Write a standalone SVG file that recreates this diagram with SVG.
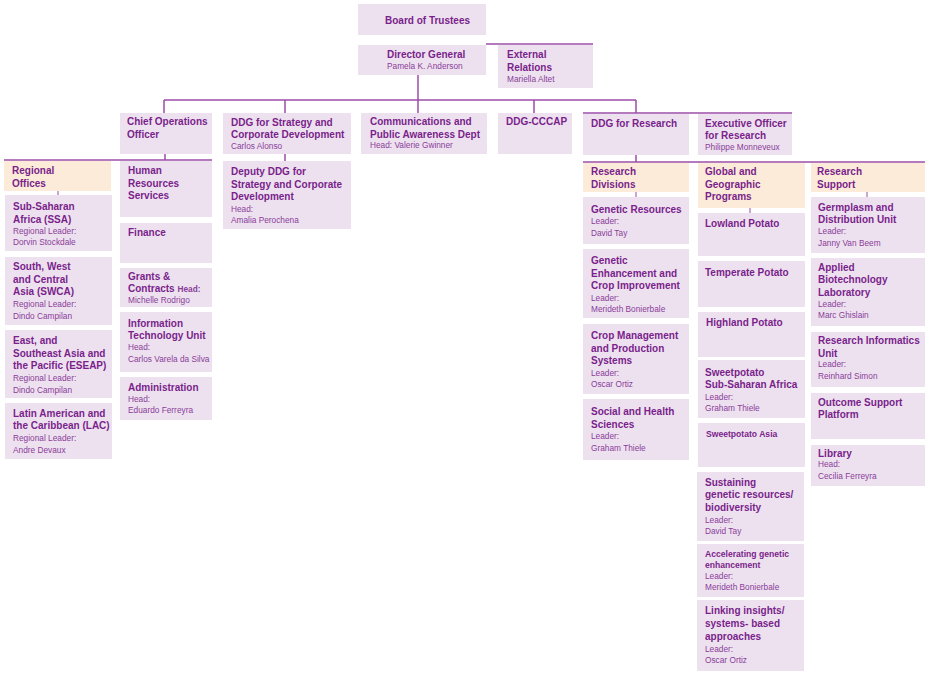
<svg xmlns="http://www.w3.org/2000/svg" width="930" height="674" viewBox="0 0 930 674">
<style>
.box{fill:#ede1ef}
.hdr{fill:#fcebd9}
text{font-family:"Liberation Sans",Arial,sans-serif}
.t{font-size:10px;font-weight:bold;fill:#7a1f8b}
.s{font-size:8.6px;font-weight:bold;fill:#7a1f8b}
.n{font-size:8.3px;fill:#8a3d99}
.c line{stroke:#9b4ea7;stroke-width:1.5;fill:none}
.c .tk{stroke-width:1}
</style>
<rect width="930" height="674" fill="#ffffff"/>
<g class="c" id="connectors">
<line x1="418" y1="75" x2="418" y2="113"/>
<line x1="164" y1="100" x2="636" y2="100"/>
<line x1="164" y1="100" x2="164" y2="113"/>
<line x1="285" y1="100" x2="285" y2="113"/>
<line x1="534" y1="100" x2="534" y2="113"/>
<line x1="636" y1="100" x2="636" y2="113"/>
<line x1="486" y1="44" x2="593" y2="44"/>
<line x1="583" y1="113" x2="792" y2="113"/>
<line x1="165" y1="154" x2="165" y2="160"/>
<line x1="4" y1="160" x2="212" y2="160"/>
<line x1="285" y1="154" x2="285" y2="161"/>
<line x1="636" y1="155" x2="636" y2="162"/>
<line x1="583" y1="162" x2="925" y2="162"/>
<line class="tk" x1="58" y1="191" x2="58" y2="195"/>
<line class="tk" x1="636" y1="192" x2="636" y2="197"/>
<line class="tk" x1="750" y1="208" x2="750" y2="213"/>
<line class="tk" x1="867" y1="192" x2="867" y2="197"/>
</g>
<g id="board"><rect class="box" x="358" y="4" width="128" height="31"/><text class="t" x="385" y="24">Board of Trustees</text></g>
<g id="dg"><rect class="box" x="358" y="45" width="128" height="30"/><text class="t" x="387" y="58">Director General</text><text class="n" x="387" y="69">Pamela K. Anderson</text></g>
<g id="external"><rect class="box" x="498" y="45" width="95" height="43"/><text class="t" x="507" y="58">External</text><text class="t" x="507" y="71">Relations</text><text class="n" x="507" y="82">Mariella Altet</text></g>
<g id="coo"><rect class="box" x="120" y="113" width="92" height="41"/><text class="t" x="127" y="125">Chief Operations</text><text class="t" x="127" y="138">Officer</text></g>
<g id="ddg-strategy"><rect class="box" x="223" y="113" width="128" height="41"/><text class="t" x="231" y="126">DDG for Strategy and</text><text class="t" x="231" y="138">Corporate Development</text><text class="n" x="231" y="149">Carlos Alonso</text></g>
<g id="comms"><rect class="box" x="361" y="113" width="126" height="41"/><text class="t" x="370" y="125">Communications and</text><text class="t" x="370" y="138">Public Awareness Dept</text><text class="n" x="370" y="148">Head: Valerie Gwinner</text></g>
<g id="cccap"><rect class="box" x="498" y="113" width="74" height="41"/><text class="t" x="506" y="125">DDG-CCCAP</text></g>
<g id="ddg-research"><rect class="box" x="583" y="114" width="106" height="41"/><text class="t" x="591" y="127">DDG for Research</text></g>
<g id="exec-officer"><rect class="box" x="698" y="114" width="94" height="41"/><text class="t" x="705" y="127">Executive Officer</text><text class="t" x="705" y="139">for Research</text><text class="n" x="705" y="150">Philippe Monneveux</text></g>
<g id="regional"><rect class="hdr" x="4" y="161" width="107" height="30"/><text class="t" x="12" y="174">Regional</text><text class="t" x="12" y="187">Offices</text></g>
<g id="ssa"><rect class="box" x="5" y="195" width="107" height="56"/><text class="t" x="13" y="210">Sub-Saharan</text><text class="t" x="13" y="223">Africa (SSA)</text><text class="n" x="13" y="234">Regional Leader:</text><text class="n" x="13" y="245">Dorvin Stockdale</text></g>
<g id="swca"><rect class="box" x="5" y="257" width="107" height="68"/><text class="t" x="13" y="270">South, West</text><text class="t" x="13" y="283">and Central</text><text class="t" x="13" y="295">Asia (SWCA)</text><text class="n" x="13" y="307">Regional Leader:</text><text class="n" x="13" y="319">Dindo Campilan</text></g>
<g id="eseap"><rect class="box" x="5" y="330" width="107" height="68"/><text class="t" x="13" y="344">East, and</text><text class="t" x="13" y="357">Southeast Asia and</text><text class="t" x="13" y="369">the Pacific (ESEAP)</text><text class="n" x="13" y="381">Regional Leader:</text><text class="n" x="13" y="393">Dindo Campilan</text></g>
<g id="lac"><rect class="box" x="5" y="403" width="107" height="56"/><text class="t" x="13" y="417">Latin American and</text><text class="t" x="13" y="429">the Caribbean (LAC)</text><text class="n" x="13" y="441">Regional Leader:</text><text class="n" x="13" y="453">Andre Devaux</text></g>
<g id="hr"><rect class="box" x="120" y="161" width="92" height="56"/><text class="t" x="128" y="174">Human</text><text class="t" x="128" y="187">Resources</text><text class="t" x="128" y="199">Services</text></g>
<g id="finance"><rect class="box" x="120" y="223" width="92" height="40"/><text class="t" x="128" y="236">Finance</text></g>
<g id="grants"><rect class="box" x="120" y="268" width="92" height="39"/><text class="t" x="128" y="280">Grants &amp;</text><text class="t" x="128" y="292">Contracts <tspan class="n">Head:</tspan></text><text class="n" x="128" y="303">Michelle Rodrigo</text></g>
<g id="it"><rect class="box" x="120" y="312" width="92" height="60"/><text class="t" x="128" y="327">Information</text><text class="t" x="128" y="339">Technology Unit</text><text class="n" x="128" y="350">Head:</text><text class="n" x="128" y="362">Carlos Varela da Silva</text></g>
<g id="admin"><rect class="box" x="120" y="377" width="92" height="43"/><text class="t" x="128" y="391">Administration</text><text class="n" x="128" y="402">Head:</text><text class="n" x="128" y="413">Eduardo Ferreyra</text></g>
<g id="deputy"><rect class="box" x="223" y="161" width="128" height="68"/><text class="t" x="231" y="175">Deputy DDG for</text><text class="t" x="231" y="188">Strategy and Corporate</text><text class="t" x="231" y="200">Development</text><text class="n" x="231" y="212">Head:</text><text class="n" x="231" y="223">Amalia Perochena</text></g>
<g id="research-divisions"><rect class="hdr" x="583" y="163" width="106" height="29"/><text class="t" x="591" y="175">Research</text><text class="t" x="591" y="188">Divisions</text></g>
<g id="genetic-resources"><rect class="box" x="583" y="197" width="106" height="47"/><text class="t" x="591" y="213">Genetic Resources</text><text class="n" x="591" y="224">Leader:</text><text class="n" x="591" y="236">David Tay</text></g>
<g id="genetic-enhancement"><rect class="box" x="583" y="249" width="106" height="69"/><text class="t" x="591" y="264">Genetic</text><text class="t" x="591" y="277">Enhancement and</text><text class="t" x="591" y="289">Crop Improvement</text><text class="n" x="591" y="301">Leader:</text><text class="n" x="591" y="312">Merideth Bonierbale</text></g>
<g id="crop-management"><rect class="box" x="583" y="324" width="106" height="70"/><text class="t" x="591" y="339">Crop Management</text><text class="t" x="591" y="352">and Production</text><text class="t" x="591" y="364">Systems</text><text class="n" x="591" y="376">Leader:</text><text class="n" x="591" y="387">Oscar Ortiz</text></g>
<g id="social-health"><rect class="box" x="583" y="399" width="106" height="61"/><text class="t" x="591" y="415">Social and Health</text><text class="t" x="591" y="428">Sciences</text><text class="n" x="591" y="439">Leader:</text><text class="n" x="591" y="451">Graham Thiele</text></g>
<g id="global-programs"><rect class="hdr" x="698" y="163" width="107" height="45"/><text class="t" x="705" y="175">Global and</text><text class="t" x="705" y="188">Geographic</text><text class="t" x="705" y="200">Programs</text></g>
<g id="lowland"><rect class="box" x="698" y="213" width="107" height="43"/><text class="t" x="705" y="227">Lowland  Potato</text></g>
<g id="temperate"><rect class="box" x="698" y="261" width="107" height="46"/><text class="t" x="705" y="276">Temperate Potato</text></g>
<g id="highland"><rect class="box" x="698" y="312" width="107" height="45"/><text class="t" x="706" y="326">Highland Potato</text></g>
<g id="sweetpotato-ssa"><rect class="box" x="698" y="360" width="107" height="58"/><text class="t" x="705" y="376">Sweetpotato</text><text class="t" x="705" y="388">Sub-Saharan Africa</text><text class="n" x="705" y="400">Leader:</text><text class="n" x="705" y="411">Graham Thiele</text></g>
<g id="sweetpotato-asia"><rect class="box" x="698" y="423" width="107" height="44"/><text class="s" x="706" y="437">Sweetpotato Asia</text></g>
<g id="sustaining"><rect class="box" x="697" y="472" width="107" height="69"/><text class="t" x="705" y="486">Sustaining</text><text class="t" x="705" y="498">genetic resources/</text><text class="t" x="705" y="511">biodiversity</text><text class="n" x="705" y="523">Leader:</text><text class="n" x="705" y="534">David Tay</text></g>
<g id="accelerating"><rect class="box" x="697" y="544" width="107" height="53"/><text class="s" x="705" y="557">Accelerating genetic</text><text class="s" x="705" y="568">enhancement</text><text class="n" x="705" y="579">Leader:</text><text class="n" x="705" y="590">Merideth Bonierbale</text></g>
<g id="linking"><rect class="box" x="697" y="600" width="107" height="71"/><text class="t" x="705" y="614">Linking insights/</text><text class="t" x="705" y="627">systems- based</text><text class="t" x="705" y="640">approaches</text><text class="n" x="705" y="652">Leader:</text><text class="n" x="705" y="663">Oscar Ortiz</text></g>
<g id="research-support"><rect class="hdr" x="811" y="163" width="114" height="29"/><text class="t" x="817" y="175">Research</text><text class="t" x="817" y="188">Support</text></g>
<g id="germplasm"><rect class="box" x="811" y="197" width="114" height="56"/><text class="t" x="818" y="211">Germplasm and</text><text class="t" x="818" y="223">Distribution Unit</text><text class="n" x="818" y="234">Leader:</text><text class="n" x="818" y="246">Janny Van Beem</text></g>
<g id="biotech"><rect class="box" x="811" y="258" width="114" height="68"/><text class="t" x="818" y="271">Applied</text><text class="t" x="818" y="283">Biotechnology</text><text class="t" x="818" y="296">Laboratory</text><text class="n" x="818" y="307">Leader:</text><text class="n" x="818" y="318">Marc Ghislain</text></g>
<g id="informatics"><rect class="box" x="811" y="332" width="114" height="55"/><text class="t" x="818" y="344">Research Informatics</text><text class="t" x="818" y="357">Unit</text><text class="n" x="818" y="367">Leader:</text><text class="n" x="818" y="379">Reinhard Simon</text></g>
<g id="outcome"><rect class="box" x="811" y="393" width="114" height="46"/><text class="t" x="818" y="406">Outcome Support</text><text class="t" x="818" y="418">Platform</text></g>
<g id="library"><rect class="box" x="811" y="445" width="114" height="41"/><text class="t" x="818" y="457">Library</text><text class="n" x="818" y="467">Head:</text><text class="n" x="818" y="479">Cecilia Ferreyra</text></g>
</svg>
